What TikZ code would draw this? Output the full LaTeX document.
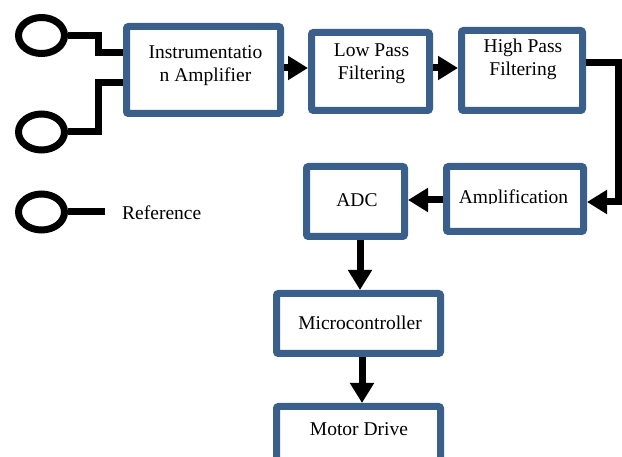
\documentclass[tikz,border=0pt]{standalone}
\usepackage{fontspec}
\setmainfont{Liberation Serif}
\usetikzlibrary{arrows.meta,shapes.geometric}
\definecolor{boxblue}{RGB}{58,95,139}

\tikzset{
  blk/.style={draw=boxblue, line width=7pt, rounded corners=2pt, fill=white, inner sep=0pt},
  txt/.style={align=center, inner sep=0pt, font=\fontsize{19.5}{23}\selectfont},
  flow/.style={line width=7pt, -{Triangle[length=20pt,width=23pt]}},
  wire/.style={line width=7pt},
  elec/.style={draw, ellipse, line width=7pt, minimum width=46pt, minimum height=36pt, inner sep=0pt},
}

\begin{document}
\begin{tikzpicture}[x=1pt,y=-1pt]
      \useasboundingbox (0,0) rectangle (622,457);
      \clip (0,0) rectangle (622,457);
      % blocks
      \node[blk, minimum width=154pt, minimum height=87pt] (ia) at (203.5,70) {};
      \node[blk, minimum width=118pt, minimum height=78pt] (lp) at (370.5,71.5) {};
      \node[blk, minimum width=121pt, minimum height=80pt] (hp) at (522,70.5) {};
      \node[blk, minimum width=98pt, minimum height=70pt] (adc) at (355.5,201.5) {};
      \node[blk, minimum width=137pt, minimum height=65pt] (amp) at (515,199) {};
      \node[blk, minimum width=164pt, minimum height=60pt] (mcu) at (358.5,323.5) {};
      \node[blk, minimum width=164pt, minimum height=60pt] (motor) at (358.5,436.5) {};
      % texts
      \node[txt] (iatxt) at (205.5,65.5) {Instrumentatio\\n Amplifier};
      \node[txt] (lptxt) at (371.5,63.5) {Low Pass\\Filtering};
      \node[txt] (hptxt) at (523,59.5) {High Pass\\Filtering};
      \node[txt] (adctxt) at (357,200.5) {ADC};
      \begin{scope}
        \clip (440,150) rectangle (590,203.5);
        \node[txt] (amptxt) at (513.5,198.5) {Amplification};
      \end{scope}
      \node[txt] (mcutxt) at (360,322.5) {Microcontroller};
      \node[txt] (motortxt) at (359,429) {Motor Drive};
      % electrodes
      \node[elec] (e1) at (41.5,35.5) {};
      \node[elec] (e2) at (41.5,132) {};
      \node[elec] (eref) at (41.5,212) {};
      \coordinate (refend) at (105,212);
      \node[txt, anchor=west] (reflbl) at (122,213) {Reference};
      \draw[wire] (e1.east) -- ++(30,0) |- ([yshift=17pt]ia.west);
      \draw[wire] (e2.east) -- ++(30,0) |- ([yshift=-13pt]ia.west);
      \draw[wire] (eref.east) -- (refend);
      % signal path
      \draw[flow] ([yshift=2pt]ia.east) -- ([yshift=2pt]ia.east -| lp.west);
      \draw[flow] ([yshift=3.5pt]lp.east) -- ([yshift=3.5pt]lp.east -| hp.west);
      \draw[flow] ([yshift=7.5pt]hp.east) -- ++(32,0) |- ([yshift=-3pt]amp.east);
      \draw[flow] ([yshift=-1pt]amp.west) -- ([yshift=-1pt]amp.west -| adc.east);
      \draw[flow] ([xshift=4.5pt]adc.south) -- ([xshift=4.5pt]adc.south |- mcu.north);
      \draw[flow] ([xshift=3.5pt]mcu.south) -- ([xshift=3.5pt]mcu.south |- motor.north);
    \end{tikzpicture}
\end{document}
